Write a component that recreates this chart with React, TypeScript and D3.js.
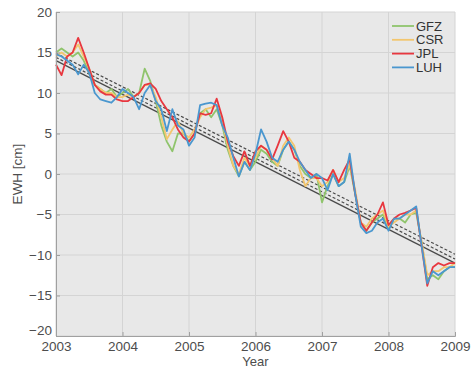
import * as d3 from "d3";
import { useEffect, useRef } from "react";

// monthly samples, 2003.0 .. 2009.0
const months = d3.range(73).map((i) => 2003 + i / 12);

const gfz = [
  15.0, 15.5, 15.0, 14.5, 15.0, 14.0, 12.5, 11.0, 10.5, 10.0, 10.5, 9.5,
  10.0, 10.5, 9.5, 10.0, 13.0, 11.5, 9.0, 6.0, 4.0, 2.8, 5.0, 5.0,
  4.0, 5.0, 7.5, 8.0, 7.0, 8.0, 6.0, 3.0, 1.0, -0.3, 1.5, 0.5,
  1.5, 3.0, 2.5, 1.5, 1.0, 3.0, 4.0, 3.0, 1.0, 0.0, -0.5, 0.0,
  -3.5, -1.5, 0.0, -1.5, -1.0, 1.0, -2.5, -6.0, -7.0, -6.0, -5.5, -5.0,
  -6.8, -5.5, -5.5, -6.0, -5.0, -4.8, -8.5, -13.0, -12.5, -13.0, -12.0, -11.5,
  -11.5,
];
const csr = [
  14.5, 15.0, 14.5, 15.0, 16.0, 14.5, 13.0, 11.0, 10.5, 10.0, 10.0, 9.5,
  9.5, 9.8, 9.5, 10.0, 11.0, 11.0, 9.5, 7.0, 4.3, 5.5, 6.5, 5.0,
  4.5, 5.5, 7.0, 8.0, 8.2, 8.5, 6.5, 3.5, 1.0, 0.0, 2.0, 1.0,
  2.0, 3.5, 3.0, 2.0, 1.0, 3.5, 4.5, 3.5, 0.5, -1.5, -0.5, -0.5,
  -1.5, -1.0, 0.5, -1.0, -0.5, 1.2, -2.0, -6.0, -6.5, -5.5, -5.0, -4.5,
  -6.5, -6.0, -5.5, -5.0, -5.0, -4.5, -8.5, -12.5, -12.0, -12.0, -11.5, -11.5,
  -11.0,
];
const jpl = [
  13.5, 12.2, 14.5, 15.0, 16.8, 15.0, 13.0, 11.0, 10.2, 9.8, 9.8, 9.2,
  9.0, 9.0, 9.5, 10.0, 11.0, 11.2, 10.5, 9.0, 8.0, 7.0, 5.5, 4.5,
  4.0, 5.0, 7.5, 7.3, 7.5, 9.3, 7.0, 4.0, 2.2, 1.0, 2.8, 1.0,
  2.8, 3.5, 3.0, 1.8, 3.5, 5.3, 4.0, 2.0, 1.5, 0.5, 0.0, -0.5,
  -0.5, -0.8, 0.5, -1.0, 0.5, 1.8, -2.5, -6.0, -7.0, -6.0, -5.0, -3.5,
  -6.3, -5.5, -5.0, -4.8, -4.5, -4.2, -9.0, -13.8, -11.5, -11.0, -11.3, -11.0,
  -11.0,
];
const luh = [
  14.8, 14.5, 14.0, 13.5, 12.3, 13.5, 12.5, 10.0, 9.2, 9.0, 8.8, 9.5,
  10.5, 10.0, 9.5, 8.0, 10.0, 11.0, 9.0, 8.0, 5.3, 8.0, 6.0, 5.5,
  3.5, 4.5, 8.5, 8.7, 8.8, 8.5, 6.0, 4.5, 2.0, -0.3, 1.5, 0.5,
  2.5, 5.5, 4.0, 2.0, 1.5, 3.0, 4.0, 3.0, 1.5, 0.5, -0.5, 0.0,
  -0.5, -2.0, 0.0, -1.5, -1.0, 2.5, -2.5, -6.5, -7.3, -7.0, -6.0, -5.5,
  -7.0, -5.5, -5.5, -5.0, -4.5, -4.0, -9.0, -13.5, -12.0, -12.5, -12.0, -11.5,
  -11.5,
];

const seriesNames = ["GFZ", "CSR", "JPL", "LUH"];
const seriesValues = [gfz, csr, jpl, luh];
const seriesColors = ["#8fc46c", "#f3c66e", "#e8373f", "#4a97cf"];

// linear trends, value at 2003 and at 2009
const trendStart = [14.9, 14.4, 14.0];
const trendEnd = [-9.9, -10.5, -11.0];
const trendDash = ["3,2", "3,2", null];

const xTicks = [2003, 2004, 2005, 2006, 2007, 2008, 2009];
const yTicks = [-20, -15, -10, -5, 0, 5, 10, 15, 20];

const font = "Liberation Sans, Arial, sans-serif";

function App() {
  const ref = useRef<SVGSVGElement>(null);

  useEffect(() => {
    const margin = { top: 12, right: 16, bottom: 33, left: 56 },
      width = 471 - margin.left - margin.right,
      height = 369 - margin.top - margin.bottom;

    const root = d3.select(ref.current);
    root.selectAll("*").remove();

    const svg = root
      .append("g")
      .attr("transform", "translate(" + margin.left + "," + margin.top + ")");

    const x = d3.scaleLinear().domain([2003, 2009]).range([0, width]);
    const y = d3.scaleLinear().domain([-20, 20]).range([height, 0]);

    // plot background
    svg.append("rect").attr("width", width).attr("height", height).attr("fill", "#e8e8e8");

    // grid
    svg
      .selectAll(".vgrid")
      .data(xTicks)
      .enter()
      .append("line")
      .attr("x1", (d) => x(d))
      .attr("x2", (d) => x(d))
      .attr("y1", 0)
      .attr("y2", height)
      .attr("stroke", "#d4d4d4")
      .attr("stroke-width", 1);
    svg
      .selectAll(".hgrid")
      .data(yTicks)
      .enter()
      .append("line")
      .attr("x1", 0)
      .attr("x2", width)
      .attr("y1", (d) => y(d))
      .attr("y2", (d) => y(d))
      .attr("stroke", "#d4d4d4")
      .attr("stroke-width", 1);

    // trend lines
    trendStart.forEach((v, i) => {
      svg
        .append("line")
        .attr("x1", x(2003))
        .attr("y1", y(v))
        .attr("x2", x(2009))
        .attr("y2", y(trendEnd[i]))
        .attr("stroke", "#4a4a4a")
        .attr("stroke-width", 1.2)
        .attr("stroke-dasharray", trendDash[i]);
    });

    const line = d3
      .line<number>()
      .x((d, i) => x(months[i]))
      .y((d) => y(d));

    seriesValues.forEach((vals, i) => {
      svg
        .append("path")
        .datum(vals)
        .attr("d", line)
        .attr("fill", "none")
        .attr("stroke", seriesColors[i])
        .attr("stroke-width", 1.8)
        .attr("stroke-linejoin", "round");
    });

    // axes
    const xAxis = svg
      .append("g")
      .attr("transform", "translate(0," + height + ")")
      .call(d3.axisBottom(x).tickValues(xTicks).tickFormat(d3.format("d")).tickSize(-4).tickPadding(5));
    const yAxis = svg
      .append("g")
      .call(d3.axisLeft(y).tickValues(yTicks).tickSize(-4).tickPadding(4));

    [xAxis, yAxis].forEach((a) => {
      a.select(".domain").attr("stroke", "#a0a0a0");
      a.selectAll(".tick line").attr("stroke", "#a0a0a0");
      a.selectAll("text")
        .attr("fill", "#4d4d4d")
        .style("font-family", font)
        .style("font-size", "13.5px");
    });
    // lowest y label sits a little higher, clear of the 2003 label
    yAxis
      .selectAll<SVGTextElement, number>("text")
      .filter((d) => d === -20)
      .attr("y", -6);

    svg
      .append("text")
      .attr("x", width / 2)
      .attr("y", height + 30)
      .attr("text-anchor", "middle")
      .attr("fill", "#4d4d4d")
      .style("font-family", font)
      .style("font-size", "13px")
      .text("Year");

    svg
      .append("text")
      .attr("transform", "translate(-34," + height / 2 + ") rotate(-90)")
      .attr("text-anchor", "middle")
      .attr("fill", "#4d4d4d")
      .style("font-family", font)
      .style("font-size", "13.5px")
      .text("EWH [cm]");

    // legend
    const legend = svg.append("g").attr("transform", "translate(" + (width - 63) + ",14)");
    seriesNames.forEach((name, i) => {
      const g = legend.append("g").attr("transform", "translate(0," + i * 13.8 + ")");
      g.append("line")
        .attr("x1", 0)
        .attr("x2", 22)
        .attr("stroke", seriesColors[i])
        .attr("stroke-width", 1.8);
      g.append("text")
        .attr("x", 24)
        .attr("dy", "0.35em")
        .attr("fill", "#333")
        .style("font-family", font)
        .style("font-size", "13px")
        .text(name);
    });
  }, []);

  return (
    <svg
      ref={ref}
      width={471}
      height={369}
      style={{ position: "absolute", left: 0, top: 0, background: "#fff" }}
    ></svg>
  );
}

export default App;
